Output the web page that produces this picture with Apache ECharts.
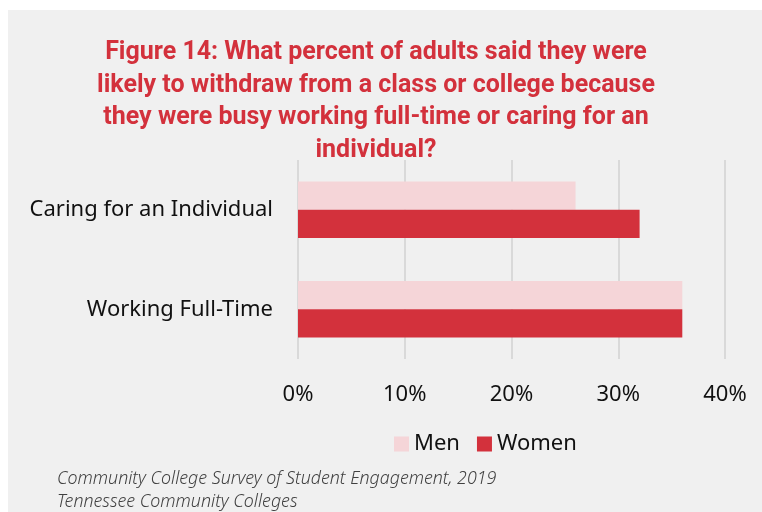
<!DOCTYPE html>
<html>
<head>
<meta charset="utf-8">
<script src="https://cdn.jsdelivr.net/npm/echarts@6/dist/echarts.min.js"></script>
<style>
  html, body { margin: 0; padding: 0; background: #ffffff; }
  #chart { width: 762px; height: 512px; }
</style>
</head>
<body>
<div id="chart"></div>
<script>
// Reasons for withdrawing, listed bottom-to-top as the category axis draws them
const categories = ['Working Full-Time', 'Caring for an Individual'];
const seriesNames = ['Men', 'Women'];
const menValues = [36, 26];
const womenValues = [36, 32];
const xTicks = [0, 10, 20, 30, 40];

const titleText = 'Figure 14: What percent of adults said they were\n' +
  'likely to withdraw from a class or college because\n' +
  'they were busy working full-time or caring for an\n' +
  'individual?';
const sourceLines = [
  'Community College Survey of Student Engagement, 2019',
  'Tennessee Community Colleges'
];

const RED = '#d3313c';
const PINK = '#f5d5d8';
const UI_FONT = '"Noto Sans", "Open Sans", sans-serif';

const chart = echarts.init(document.getElementById('chart'), null, { renderer: 'canvas' });

chart.setOption({
  backgroundColor: '#ffffff',
  animation: false,
  graphic: [
    {
      type: 'rect',
      z: -10,
      shape: { x: 8, y: 10, width: 754, height: 502 },
      style: { fill: '#f0f0f0' },
      silent: true
    },
    {
      type: 'text',
      left: 57,
      top: 467,
      style: {
        text: sourceLines.join('\n'),
        font: 'italic 300 17.8px ' + UI_FONT,
        lineHeight: 23,
        fill: '#404040'
      }
    }
  ],
  title: {
    text: titleText,
    left: 371,
    textAlign: 'center',
    top: 32,
    textStyle: {
      color: RED,
      fontFamily: 'Roboto, "Noto Sans", sans-serif',
      fontWeight: 'bold',
      fontSize: 25,
      lineHeight: 32.4
    }
  },
  legend: {
    data: seriesNames,
    left: 389,
    top: 428,
    itemWidth: 15,
    itemHeight: 15,
    itemGap: 17,
    icon: 'rect',
    textStyle: { fontFamily: UI_FONT, fontSize: 22, color: '#111111' }
  },
  grid: { left: 298, right: 37, top: 160, bottom: 153, containLabel: false },
  xAxis: {
    type: 'value',
    min: xTicks[0],
    max: xTicks[xTicks.length - 1],
    interval: xTicks[1] - xTicks[0],
    axisLine: { show: false },
    axisTick: { show: false },
    splitLine: { show: true, lineStyle: { color: '#d9d9d9', width: 2 } },
    axisLabel: {
      formatter: '{value}%',
      fontFamily: UI_FONT,
      fontSize: 22,
      color: '#111111',
      margin: 25
    }
  },
  yAxis: {
    type: 'category',
    data: categories,
    axisLine: { show: false },
    axisTick: { show: false },
    splitLine: { show: false },
    axisLabel: {
      fontFamily: UI_FONT,
      fontSize: 22,
      color: '#111111',
      margin: 25,
      padding: [4, 0, 0, 0]
    }
  },
  series: [
    {
      name: seriesNames[0],
      type: 'bar',
      data: menValues,
      itemStyle: { color: PINK },
      barGap: '0%',
      barCategoryGap: '43%'
    },
    {
      name: seriesNames[1],
      type: 'bar',
      data: womenValues,
      itemStyle: { color: RED },
      barGap: '0%',
      barCategoryGap: '43%'
    }
  ]
});
</script>
</body>
</html>
